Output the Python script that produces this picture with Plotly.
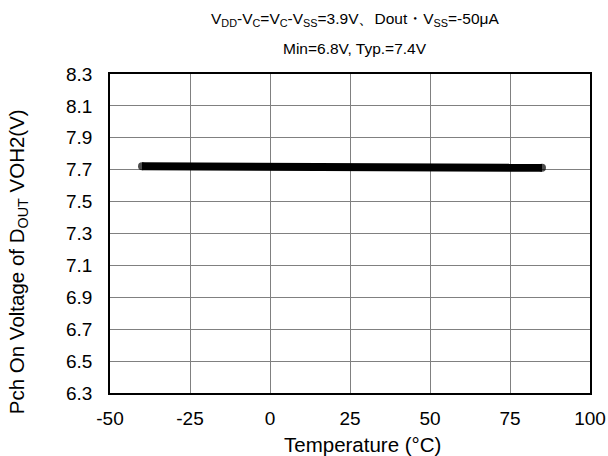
import plotly.graph_objects as go

temperature = [-40, -25, 0, 25, 50, 75, 85]
voh2 = [7.722, 7.721, 7.719, 7.717, 7.715, 7.713, 7.712]

x_ticks = [-50, -25, 0, 25, 50, 75, 100]
y_ticks = [6.3, 6.5, 6.7, 6.9, 7.1, 7.3, 7.5, 7.7, 7.9, 8.1, 8.3]

title_line1 = "V<sub>DD</sub>-V<sub>C</sub>=V<sub>C</sub>-V<sub>SS</sub>=3.9V、Dout・V<sub>SS</sub>=-50μA"
title_line2 = "Min=6.8V, Typ.=7.4V"
x_title = "Temperature (°C)"
y_title = "Pch On Voltage of D<sub>OUT</sub> VOH2(V)"

cap_sizes = [8] + [0] * (len(temperature) - 2) + [8]

fig = go.Figure()
fig.add_trace(go.Scatter(x=temperature, y=voh2, mode="lines+markers",
                         line=dict(color="black", width=8),
                         marker=dict(color="black", size=cap_sizes, line=dict(width=0)),
                         showlegend=False))

font = "Liberation Sans, Arial, sans-serif"
fig.update_layout(
    width=608, height=456,
    margin=dict(l=110, r=18, t=74, b=63, autoexpand=False),
    paper_bgcolor="white", plot_bgcolor="white",
    font=dict(family=font, size=18, color="black"),
    annotations=[
        dict(text=title_line1, x=0.51, y=1, xref="paper", yref="paper",
             yanchor="middle", yshift=55, showarrow=False, font=dict(size=15.5)),
        dict(text=title_line2, x=0.51, y=1, xref="paper", yref="paper",
             yanchor="middle", yshift=26, showarrow=False, font=dict(size=15.5)),
        dict(text=x_title, x=0.525, y=0, xref="paper", yref="paper",
             yanchor="middle", yshift=-51, showarrow=False, font=dict(size=20.5)),
        dict(text=y_title, x=0, y=0.41, xref="paper", yref="paper",
             xanchor="center", yanchor="middle", xshift=-92, textangle=-90,
             showarrow=False, font=dict(size=20.5)),
    ],
)
fig.update_xaxes(range=[-50, 100], tickvals=x_ticks, ticktext=[str(v) for v in x_ticks],
                 showgrid=True, gridcolor="#808080", gridwidth=1,
                 showline=True, linecolor="black", linewidth=1.5, mirror=True,
                 zeroline=False, ticks="", automargin=False, ticklabelstandoff=7,
                 tickfont=dict(size=19))
fig.update_yaxes(range=[6.3, 8.3], tickvals=y_ticks, ticktext=[f"{v:.1f}" for v in y_ticks],
                 showgrid=True, gridcolor="#808080", gridwidth=1,
                 showline=True, linecolor="black", linewidth=1.5, mirror=True,
                 zeroline=False, ticks="", automargin=False, ticklabelstandoff=12,
                 tickfont=dict(size=19))

fig.write_html("out.html", config={"displayModeBar": False},
               post_script="document.body.style.margin='0';")
